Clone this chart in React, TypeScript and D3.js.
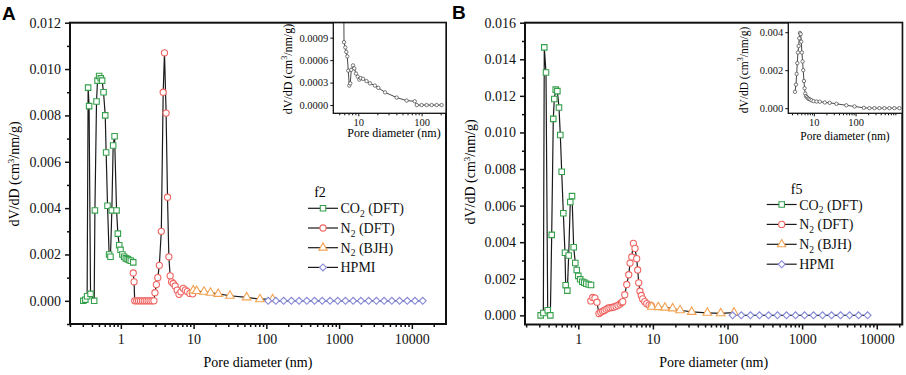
import { useEffect, useRef } from "react";
import * as d3 from "d3";

type Pt = [number, number]; // [pore diameter nm, dV/dD]

// ---------- panel A (f2) ----------
const A_CO2: Pt[] = [
  [0.305, 0], [0.325, 0.00005], [0.344, 0.0002], [0.355, 0.0092], [0.366, 0.0084], [0.383, 0.0003],
  [0.43, 0], [0.44, 0.0039], [0.463, 0.0086], [0.478, 0.0095], [0.503, 0.0097], [0.53, 0.0096],
  [0.553, 0.0095], [0.578, 0.009], [0.61, 0.008], [0.628, 0.0064], [0.656, 0.0041], [0.69, 0.002],
  [0.72, 0.0019], [0.752, 0.0039], [0.784, 0.0067], [0.82, 0.0071], [0.873, 0.0039], [0.91, 0.0029],
  [0.95, 0.0024], [0.99, 0.0022], [1.05, 0.002], [1.11, 0.0019], [1.17, 0.00183], [1.24, 0.0018],
  [1.3, 0.00176], [1.37, 0.00173], [1.48, 0.00166],
];
const A_N2DFT: Pt[] = [
  [1.48, 0.0012], [1.52, 0.00082], [1.55, 0], [1.65, 0], [1.75, 0], [1.86, 0], [1.98, 0], [2.1, 0],
  [2.23, 0], [2.37, 0], [2.52, 0], [2.68, 0], [2.85, 0], [2.94, 0.00035], [3.08, 0.0007], [3.22, 0.001],
  [3.38, 0.00153], [3.6, 0.003], [3.82, 0.009], [3.98, 0.0107], [4.19, 0.0081], [4.38, 0.00447],
  [4.57, 0.0019], [4.76, 0.00108], [4.98, 0.00082], [5.25, 0.00075], [5.58, 0.00064], [5.95, 0.00046],
  [6.3, 0.00028], [6.7, 0.00039], [7.2, 0.00054], [7.7, 0.00046], [8.2, 0.0004], [8.9, 0.00032], [9.7, 0.0003],
];
const A_N2BJH: Pt[] = [
  [9.9, 0.00045], [11, 0.00042], [13.9, 0.00039], [17.1, 0.00035], [21.8, 0.0003], [31.6, 0.00022],
  [53.6, 0.00015], [81.6, 0.00007], [122, 0.00007],
];
const A_HPMI_D = [106, 135, 173, 221, 282, 360, 460, 587, 750, 958, 1223, 1562, 1995, 2548, 3254, 4155, 5307, 6777, 8655, 11053, 14116];
const A_INSET: Pt[] = [
  [5.6, 0.0045], [5.95, 0.00084], [6.23, 0.00077], [6.46, 0.00071], [6.7, 0.00065], [6.95, 0.00046],
  [7.2, 0.00026], [7.47, 0.00029], [7.75, 0.00047], [8.25, 0.00053], [8.65, 0.00049], [9.2, 0.00042],
  [9.8, 0.00038], [10.4, 0.00034], [10.9, 0.00036], [11.9, 0.00035], [13.5, 0.00032], [15.3, 0.00029],
  [18.3, 0.00026], [20.7, 0.00023], [26.5, 0.00017], [40.4, 0.0001], [58, 0.00006], [78, 0.00005],
  [84, 0], [100, 0], [120, 0], [144, 0], [173, 0], [207, 0],
];

// ---------- panel B (f5) ----------
const B_CO2: Pt[] = [
  [0.313, 0], [0.34, 0.00013], [0.35, 0.01465], [0.369, 0.01328], [0.389, 0.00028], [0.422, 0],
  [0.44, 0.0044], [0.462, 0.01074], [0.477, 0.01183], [0.498, 0.01234], [0.524, 0.01226], [0.551, 0.01136],
  [0.574, 0.00986], [0.599, 0.00785], [0.63, 0.00558], [0.663, 0.00342], [0.677, 0.00165], [0.713, 0.00135],
  [0.743, 0.00327], [0.781, 0.0062], [0.824, 0.00652], [0.867, 0.00372], [0.912, 0.00286], [0.953, 0.00248],
  [1.0, 0.00216], [1.06, 0.00197], [1.13, 0.00184], [1.2, 0.00179], [1.28, 0.00173], [1.38, 0.00169], [1.48, 0.00166],
];
const B_N2DFT: Pt[] = [
  [1.47, 0.00079], [1.56, 0.00098], [1.67, 0.00094], [1.78, 0.00072], [1.89, 0.0001], [2.0, 0.00017],
  [2.12, 0.00022], [2.23, 0.00027], [2.36, 0.00033], [2.5, 0.00039], [2.65, 0.00042], [2.83, 0.00043],
  [3.0, 0.00046], [3.2, 0.0005], [3.4, 0.00055], [3.62, 0.00062], [3.8, 0.0007], [3.94, 0.00075],
  [4.19, 0.00113], [4.46, 0.00169], [4.74, 0.00222], [4.94, 0.00286], [5.2, 0.00319], [5.47, 0.00394],
  [5.75, 0.00366], [6.06, 0.0031], [6.25, 0.00248], [6.45, 0.00178], [6.7, 0.00132], [6.99, 0.00109],
  [7.28, 0.0009], [7.77, 0.00075], [8.26, 0.00064], [8.87, 0.00056], [9.5, 0.00053],
];
const B_N2BJH: Pt[] = [
  [9.64, 0.00047], [11.8, 0.00045], [14.5, 0.00042], [18.4, 0.00038], [23.1, 0.00028], [33.1, 0.00019],
  [53.6, 0.00014], [81, 0.00011], [122, 0.00015],
];
const B_HPMI_D = [117, 153, 203, 268, 354, 467, 617, 815, 1076, 1421, 1877, 2478, 3273, 4322, 5707, 7540];
const B_INSET: Pt[] = [
  [3.53, 0.00086], [3.73, 0.00124], [3.87, 0.0018], [4.01, 0.00237], [4.16, 0.00293], [4.32, 0.00327],
  [4.47, 0.00368], [4.64, 0.00396], [4.82, 0.0039], [4.99, 0.0035], [5.17, 0.00293], [5.37, 0.00246],
  [5.56, 0.002], [5.78, 0.00143], [6.0, 0.00105], [6.21, 0.00077], [6.45, 0.00064], [6.81, 0.00058],
  [7.2, 0.00052], [7.6, 0.00049], [8.17, 0.00045], [8.81, 0.00041], [9.84, 0.00037], [11.6, 0.00035],
  [13.9, 0.00034], [18.3, 0.0003], [24, 0.00028], [34.7, 0.00023], [60, 0.00015], [94.6, 0.00009],
  [158, 0.00002], [215, 0], [283, 0], [372, 0], [489, 0], [645, 0], [850, 0], [1120, 0],
];

const SERIES_NAMES = [["CO", "2", " (DFT)"], ["N", "2", " (DFT)"], ["N", "2", " (BJH)"], ["HPMI", "", ""]];
const SERIES_COLORS = ["#35a04c", "#ef6461", "#f3a251", "#858ad6"];
const SERIES_SHAPES = ["square", "circle", "triangle", "diamond"];

const A_YMAJOR = [0, 0.002, 0.004, 0.006, 0.008, 0.01, 0.012];
const A_YMINOR = [-0.001, 0.001, 0.003, 0.005, 0.007, 0.009, 0.011];
const B_YMAJOR = [0, 0.002, 0.004, 0.006, 0.008, 0.01, 0.012, 0.014, 0.016];
const B_YMINOR = [0.001, 0.003, 0.005, 0.007, 0.009, 0.011, 0.013, 0.015];
const X_MAJOR = [1, 10, 100, 1000, 10000];
const A_INSET_Y = [0, 0.0003, 0.0006, 0.0009];
const B_INSET_Y = [0, 0.002, 0.004];
const INSET_X = [10, 100];

const SERIF = "'Liberation Serif', 'Times New Roman', serif";

function symbolPath(shape: string, size: number) {
  const t = shape === "square" || shape === "diamond" ? d3.symbolSquare
    : shape === "triangle" ? d3.symbolTriangle : d3.symbolCircle;
  return d3.symbol(t, size)() as string;
}

function minorLog(domain: number[]) {
  const out: number[] = [];
  for (let e = -1; e <= 4; e++) {
    for (let k = 2; k <= 9; k++) {
      const v = k * Math.pow(10, e);
      if (v >= domain[0] && v <= domain[1]) out.push(v);
    }
  }
  return out;
}

function drawPanel(svg: any, cfg: any) {
  const { box, id } = cfg;
  const x = d3.scaleLog().domain(cfg.xDomain).range([box.x0, box.x1]);
  const y = d3.scaleLinear().domain(cfg.yDomain).range([box.y1, box.y0]);
  const g = svg.append("g");

  g.append("clipPath").attr("id", `clip-${id}`).append("rect")
    .attr("x", box.x0).attr("y", box.y0).attr("width", box.x1 - box.x0).attr("height", box.y1 - box.y0);

  const plot = g.append("g").attr("clip-path", `url(#clip-${id})`);
  const line = d3.line<Pt>().x((d) => x(d[0])).y((d) => y(d[1]));

  cfg.series.forEach((data: Pt[]) => {
    plot.append("path").attr("d", line(data)).attr("fill", "none")
      .attr("stroke", "#1a1a1a").attr("stroke-width", 1.2);
  });
  cfg.series.forEach((data: Pt[], i: number) => {
    const shape = SERIES_SHAPES[i];
    const size = shape === "square" ? 30 : shape === "circle" ? 30 : shape === "triangle" ? 32 : 24;
    plot.selectAll(null).data(data).enter().append("path")
      .attr("d", symbolPath(shape, size))
      .attr("transform", (d: Pt) => `translate(${x(d[0])},${y(d[1])})` + (shape === "diamond" ? " rotate(45)" : ""))
      .attr("fill", "white").attr("stroke", SERIES_COLORS[i]).attr("stroke-width", 1.1);
  });

  // axes
  const styleAxis = (a: any) => {
    a.select(".domain").remove();
    a.selectAll("line").attr("stroke", "#111").attr("stroke-width", 1.5);
    a.selectAll("text").attr("font-family", SERIF).attr("font-size", 14).attr("fill", "#111");
  };
  const xa = g.append("g").attr("transform", `translate(0,${box.y1})`)
    .call(d3.axisBottom(x).tickValues(X_MAJOR).tickSize(5).tickPadding(5).tickFormat(d3.format("d") as any));
  styleAxis(xa);
  const xm = g.append("g").attr("transform", `translate(0,${box.y1})`)
    .call(d3.axisBottom(x).tickValues(minorLog(cfg.xDomain)).tickSize(3).tickFormat(() => ""));
  styleAxis(xm);
  const ya = g.append("g").attr("transform", `translate(${box.x0},0)`)
    .call(d3.axisLeft(y).tickValues(cfg.yMajor).tickSize(5).tickPadding(4).tickFormat(d3.format(".3f") as any));
  styleAxis(ya);
  const ym = g.append("g").attr("transform", `translate(${box.x0},0)`)
    .call(d3.axisLeft(y).tickValues(cfg.yMinor).tickSize(3).tickFormat(() => ""));
  styleAxis(ym);

  g.append("rect").attr("x", box.x0).attr("y", box.y0).attr("width", box.x1 - box.x0)
    .attr("height", box.y1 - box.y0).attr("fill", "none").attr("stroke", "#111").attr("stroke-width", 2);

  // axis titles
  g.append("text").attr("x", (box.x0 + box.x1) / 2).attr("y", cfg.xTitleY).attr("text-anchor", "middle")
    .attr("font-family", SERIF).attr("font-size", 14).text("Pore diameter (nm)");
  const yt = g.append("text").attr("transform", `translate(${cfg.yTitle[0]},${cfg.yTitle[1]}) rotate(-90)`)
    .attr("text-anchor", "middle").attr("font-family", SERIF).attr("font-size", 14);
  yt.append("tspan").text("dV/dD (cm");
  yt.append("tspan").attr("font-size", 9).attr("dy", -5).text("3");
  yt.append("tspan").attr("dy", 5).text("/nm/g)");

  // legend
  const lg = cfg.legend;
  g.append("text").attr("x", lg.titleX).attr("y", lg.titleY).attr("text-anchor", "middle")
    .attr("font-family", SERIF).attr("font-size", 14).text(cfg.sample);
  SERIES_NAMES.forEach((nm, i) => {
    const ry = lg.y0 + i * lg.dy;
    g.append("line").attr("x1", lg.x0).attr("x2", lg.x1).attr("y1", ry).attr("y2", ry)
      .attr("stroke", "#1a1a1a").attr("stroke-width", 1.2);
    const shape = SERIES_SHAPES[i];
    g.append("path").attr("d", symbolPath(shape, shape === "diamond" ? 24 : 30))
      .attr("transform", `translate(${(lg.x0 + lg.x1) / 2},${ry})` + (shape === "diamond" ? " rotate(45)" : ""))
      .attr("fill", "white").attr("stroke", SERIES_COLORS[i]).attr("stroke-width", 1.1);
    const t = g.append("text").attr("x", lg.x1 + 2.5).attr("y", ry + 5)
      .attr("font-family", SERIF).attr("font-size", 14).attr("fill", "#111");
    t.append("tspan").text(nm[0]);
    if (nm[1]) {
      t.append("tspan").attr("font-size", 9.5).attr("dy", 3.5).text(nm[1]);
      t.append("tspan").attr("dy", -3.5).text(nm[2]);
    }
  });

  // panel letter
  g.append("text").attr("x", cfg.letterPos[0]).attr("y", cfg.letterPos[1])
    .attr("font-family", "'Liberation Sans', Arial, sans-serif").attr("font-weight", "bold")
    .attr("font-size", 19).text(cfg.letter);

  drawInset(g, cfg.inset, id);
}

function drawInset(g: any, ins: any, id: string) {
  const { box } = ins;
  const x = d3.scaleLog().domain(ins.xDomain).range([box.x0, box.x1]);
  const y = d3.scaleLinear().domain(ins.yDomain).range([box.y1, box.y0]);
  g.append("rect").attr("x", box.x0).attr("y", box.y0).attr("width", box.x1 - box.x0)
    .attr("height", box.y1 - box.y0).attr("fill", "white");
  g.append("clipPath").attr("id", `iclip-${id}`).append("rect")
    .attr("x", box.x0).attr("y", box.y0).attr("width", box.x1 - box.x0).attr("height", box.y1 - box.y0);
  const p = g.append("g").attr("clip-path", `url(#iclip-${id})`);
  const line = d3.line<Pt>().x((d) => x(d[0])).y((d) => y(d[1]));
  p.append("path").attr("d", line(ins.data)).attr("fill", "none").attr("stroke", "#333").attr("stroke-width", 0.9);
  p.selectAll(null).data(ins.data).enter().append("circle")
    .attr("cx", (d: Pt) => x(d[0])).attr("cy", (d: Pt) => y(d[1])).attr("r", 1.7)
    .attr("fill", "white").attr("stroke", "#444").attr("stroke-width", 0.7);

  const styleAxis = (a: any) => {
    a.select(".domain").remove();
    a.selectAll("line").attr("stroke", "#111").attr("stroke-width", 1);
    a.selectAll("text").attr("font-family", SERIF).attr("font-size", 10.5).attr("fill", "#111");
  };
  styleAxis(g.append("g").attr("transform", `translate(0,${box.y1})`)
    .call(d3.axisBottom(x).tickValues(INSET_X).tickSize(3).tickPadding(2).tickFormat(d3.format("d") as any)));
  styleAxis(g.append("g").attr("transform", `translate(0,${box.y1})`)
    .call(d3.axisBottom(x).tickValues(minorLog(ins.xDomain)).tickSize(2).tickFormat(() => "")));
  styleAxis(g.append("g").attr("transform", `translate(${box.x0},0)`)
    .call(d3.axisLeft(y).tickValues(ins.yTicks).tickSize(3).tickPadding(2).tickFormat(d3.format(ins.fmt) as any)));

  g.append("rect").attr("x", box.x0).attr("y", box.y0).attr("width", box.x1 - box.x0)
    .attr("height", box.y1 - box.y0).attr("fill", "none").attr("stroke", "#111").attr("stroke-width", 1.3);

  g.append("text").attr("x", ins.xTitle[0]).attr("y", ins.xTitle[1]).attr("text-anchor", "middle")
    .attr("font-family", SERIF).attr("font-size", ins.titleSize).text("Pore diameter (nm)");
  const yt = g.append("text").attr("transform", `translate(${ins.yTitle[0]},${ins.yTitle[1]}) rotate(-90)`)
    .attr("text-anchor", "middle").attr("font-family", SERIF).attr("font-size", ins.titleSize);
  yt.append("tspan").text("dV/dD (cm");
  yt.append("tspan").attr("font-size", 8).attr("dy", -5).text("3");
  yt.append("tspan").attr("dy", 5).text("/nm/g)");
}

export default function App() {
  const ref = useRef<SVGSVGElement>(null);

  useEffect(() => {
    const svg = d3.select(ref.current);
    svg.selectAll("*").remove();

    drawPanel(svg, {
      id: "a", letter: "A", letterPos: [2, 20], sample: "f2",
      box: { x0: 70, x1: 446, y0: 22.7, y1: 324 },
      xDomain: [0.2, 29500], yDomain: [-0.001, 0.012],
      yMajor: A_YMAJOR, yMinor: A_YMINOR,
      series: [A_CO2, A_N2DFT, A_N2BJH, A_HPMI_D.map((d) => [d, 0] as Pt)],
      xTitleY: 366.5, yTitle: [19, 174],
      legend: { x0: 308, x1: 338, y0: 208.3, dy: 19.7, titleX: 320, titleY: 197 },
      inset: {
        box: { x0: 333.3, x1: 446, y0: 22.7, y1: 113.3 },
        xDomain: [4.03, 243], yDomain: [-0.00011, 0.0011],
        yTicks: A_INSET_Y, fmt: ".4f", data: A_INSET,
        xTitle: [394, 137], yTitle: [292, 69], titleSize: 12,
      },
    });

    drawPanel(svg, {
      id: "b", letter: "B", letterPos: [452, 19], sample: "f5",
      box: { x0: 525, x1: 902.3, y0: 22.7, y1: 324.5 },
      xDomain: [0.193, 22000], yDomain: [-0.0005, 0.016],
      yMajor: B_YMAJOR, yMinor: B_YMINOR,
      series: [B_CO2, B_N2DFT, B_N2BJH, B_HPMI_D.map((d) => [d, 0] as Pt)],
      xTitleY: 366.5, yTitle: [475, 172],
      legend: { x0: 766.7, x1: 796.7, y0: 204.5, dy: 19.9, titleX: 796.7, titleY: 194 },
      inset: {
        box: { x0: 788.3, x1: 902.3, y0: 22.7, y1: 113.3 },
        xDomain: [2.44, 1320], yDomain: [-0.00027, 0.0045],
        yTicks: B_INSET_Y, fmt: ".3f", data: B_INSET,
        xTitle: [845, 140], yTitle: [748, 70], titleSize: 11.5,
      },
    });
  }, []);

  return (
    <svg ref={ref} width={906} height={375}
      style={{ position: "absolute", left: 0, top: 0, background: "white" }} />
  );
}
